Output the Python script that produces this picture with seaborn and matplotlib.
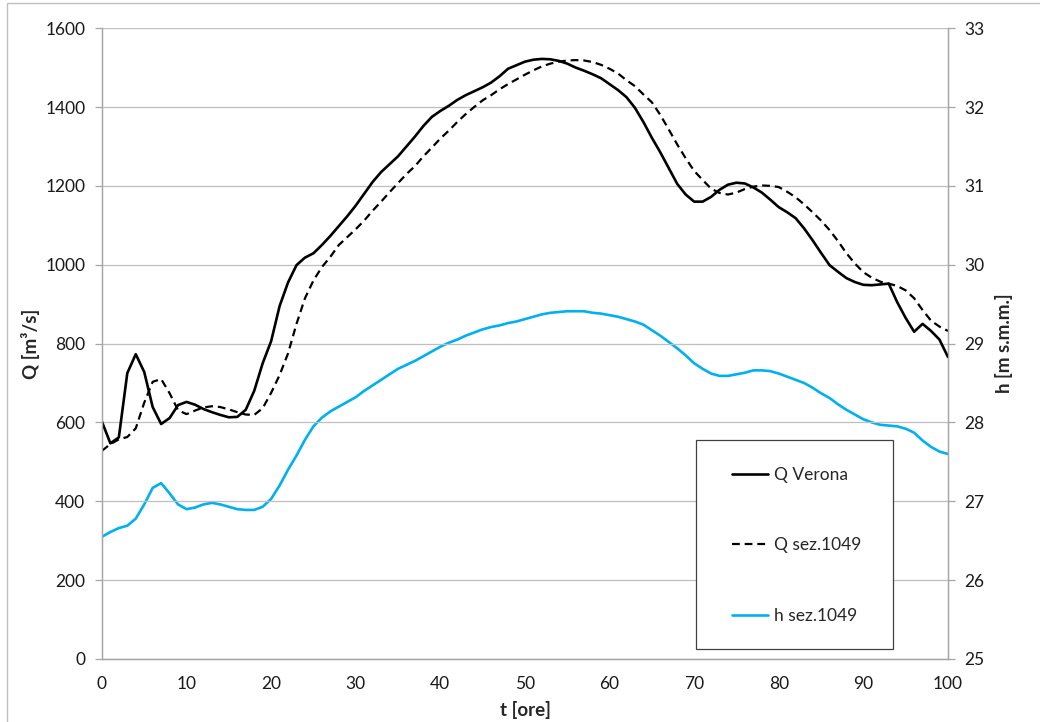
import pandas as pd
import matplotlib
matplotlib.use("Agg")
import matplotlib.pyplot as plt
from matplotlib.patches import Rectangle
import seaborn as sns

# hours
t_ore = list(range(0, 101))

# Q Verona [m3/s]
q_verona = [602, 547, 562, 725, 773, 728, 639, 596, 611, 644,
            652, 645, 634, 626, 619, 613, 614, 632, 680, 750,
            806, 895, 955, 999, 1018, 1029, 1050, 1073, 1098, 1123,
            1150, 1180, 1210, 1235, 1255, 1275, 1300, 1325, 1352, 1375,
            1390, 1403, 1418, 1430, 1440, 1450, 1462, 1478, 1497, 1506,
            1515, 1520, 1522, 1521, 1517, 1510, 1500, 1492, 1483, 1473,
            1458, 1443, 1425, 1398, 1362, 1322, 1285, 1245, 1205, 1178,
            1160, 1160, 1172, 1190, 1203, 1208, 1206, 1196, 1183, 1165,
            1146, 1133, 1118, 1092, 1062, 1030, 999, 982, 966, 956,
            949, 948, 950, 952, 905, 865, 830, 850, 832, 810,
            766]

# Q sez.1049 [m3/s]
q_sez = [528, 545, 557, 563, 585, 650, 703, 710, 674, 631,
         621, 630, 638, 641, 639, 633, 626, 620, 619, 636,
         675, 720, 775, 850, 915, 960, 994, 1020, 1050, 1070,
         1090, 1112, 1137, 1160, 1184, 1207, 1230, 1250, 1275, 1297,
         1320, 1340, 1362, 1382, 1400, 1417, 1430, 1445, 1458, 1470,
         1482, 1493, 1503, 1510, 1515, 1518, 1519, 1518, 1514, 1507,
         1497, 1485, 1468, 1453, 1432, 1412, 1380, 1343, 1305, 1270,
         1238, 1215, 1193, 1182, 1178, 1183, 1192, 1198, 1201, 1200,
         1197, 1185, 1171, 1153, 1133, 1112, 1088, 1060, 1029, 1003,
         981, 967, 957, 952, 946, 935, 915, 885, 858, 843,
         832]

# h sez.1049 [m s.m.m.]
h_sez = [26.55, 26.61, 26.66, 26.69, 26.78, 26.96, 27.17, 27.23, 27.10, 26.96,
         26.90, 26.92, 26.96, 26.98, 26.96, 26.93, 26.90, 26.89, 26.89, 26.93,
         27.03, 27.20, 27.40, 27.58, 27.78, 27.95, 28.06, 28.14, 28.20, 28.26,
         28.32, 28.40, 28.47, 28.54, 28.61, 28.68, 28.73, 28.78, 28.84, 28.90,
         28.96, 29.01, 29.05, 29.10, 29.14, 29.18, 29.21, 29.23, 29.26, 29.28,
         29.31, 29.34, 29.37, 29.39, 29.40, 29.41, 29.41, 29.41, 29.39, 29.38,
         29.36, 29.34, 29.31, 29.28, 29.24, 29.17, 29.10, 29.02, 28.94, 28.85,
         28.75, 28.68, 28.62, 28.59, 28.59, 28.61, 28.63, 28.66, 28.66, 28.65,
         28.62, 28.58, 28.54, 28.50, 28.44, 28.37, 28.31, 28.23, 28.16, 28.10,
         28.04, 28.00, 27.97, 27.96, 27.95, 27.92, 27.87, 27.77, 27.69, 27.63,
         27.60]

df = pd.DataFrame({"t": t_ore, "Q Verona": q_verona,
                   "Q sez.1049": q_sez, "h sez.1049": h_sez})

sns.set_theme(style="white")
plt.rcParams["font.family"] = ["Lato", "DejaVu Sans"]

grey = "#A6A6A6"
fig = plt.figure(figsize=(10.4, 7.22), dpi=100)
ax = fig.add_axes([0.098, 0.0873, 0.8135, 0.8737])
ax2 = ax.twinx()

sns.lineplot(data=df, x="t", y="Q Verona", ax=ax, color="black", lw=1.9, label="Q Verona")
sns.lineplot(data=df, x="t", y="Q sez.1049", ax=ax, color="black", lw=1.6,
             dashes=False, linestyle=(0, (3.5, 2.2)), label="Q sez.1049")
sns.lineplot(data=df, x="t", y="h sez.1049", ax=ax2, color="#00B0F0", lw=1.9, label="h sez.1049")

ax.set_xlim(0, 100)
ax.set_ylim(0, 1600)
ax2.set_ylim(25, 33)
ax.set_xticks(range(0, 101, 10))
ax.set_yticks(range(0, 1601, 200))
ax2.set_yticks(range(25, 34))

ax.grid(axis="y", color="#BFBFBF", lw=0.9)
ax.grid(axis="x", visible=False)
ax2.grid(False)

for a in (ax, ax2):
    for s in a.spines.values():
        s.set_color(grey)
        s.set_linewidth(0.9)
    a.spines["top"].set_visible(False)
    a.tick_params(direction="out", length=5, width=0.9, color=grey,
                  labelsize=12.5, labelcolor="#1a1a1a", pad=7)

ax.set_xlabel("t [ore]", fontsize=13.5, fontweight="bold", labelpad=7)
ax.set_ylabel("Q [m³/s]", fontsize=13.5, fontweight="bold", labelpad=4)
ax2.set_ylabel("h [m s.m.m.]", fontsize=13.5, fontweight="bold", labelpad=7)

# legend: drawn box + frameless legend inside
h1, l1 = ax.get_legend_handles_labels()
h2, l2 = ax2.get_legend_handles_labels()
if ax2.get_legend() is not None:
    ax2.get_legend().remove()
ax.add_patch(Rectangle((0.7021, 0.0158), 0.2329, 0.3312, transform=ax.transAxes,
                       facecolor="white", edgecolor="#404040", lw=0.9, zorder=4))
leg = ax.legend(h1 + h2, l1 + l2, loc="center left", bbox_to_anchor=(0.7447, 0.18),
                borderaxespad=0, borderpad=0, fontsize=12.5, frameon=False,
                labelspacing=3.15, handlelength=2.1, handletextpad=0.3)
leg.set_zorder(5)
ax.set_zorder(ax2.get_zorder() + 1)
ax.patch.set_visible(False)

# outer chart border
fig.patches.append(Rectangle((0.007, -0.01), 1.0, 1.006, transform=fig.transFigure,
                             fill=False, edgecolor="#BFBFBF", lw=1))

fig.savefig("out.png", dpi=100)
